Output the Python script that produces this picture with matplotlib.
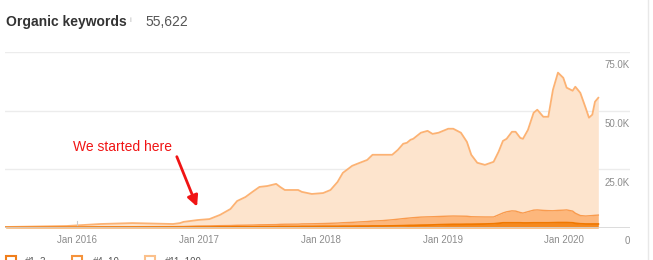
import matplotlib.pyplot as plt
import matplotlib.patches as mpatches
import numpy as np
from datetime import datetime

plt.rcParams['font.family'] = ['Liberation Sans', 'DejaVu Sans']

# data (organic keywords by ranking position)
dates = ["2015-06-01", "2015-12-01", "2016-03-10", "2016-06-15", "2016-10-15", "2016-11-05",
         "2016-11-15", "2016-12-28", "2017-02-01", "2017-03-05", "2017-04-05", "2017-04-25",
         "2017-05-20", "2017-06-10", "2017-07-01", "2017-07-25", "2017-08-20", "2017-09-01",
         "2017-09-15", "2017-10-25", "2017-11-05", "2017-12-05", "2018-01-08", "2018-01-30",
         "2018-02-20", "2018-03-08", "2018-04-05", "2018-04-28", "2018-05-20", "2018-06-05",
         "2018-07-05", "2018-08-03", "2018-08-20", "2018-09-05", "2018-09-16", "2018-09-27",
         "2018-10-05", "2018-10-28", "2018-11-17", "2018-12-02", "2018-12-20", "2019-01-18",
         "2019-02-02", "2019-02-25", "2019-03-15", "2019-03-28", "2019-04-15", "2019-05-08",
         "2019-06-03", "2019-06-18", "2019-07-01", "2019-07-12", "2019-07-28", "2019-08-08",
         "2019-08-22", "2019-08-30", "2019-09-14", "2019-10-01", "2019-10-12", "2019-10-30",
         "2019-11-14", "2019-11-28", "2019-12-13", "2019-12-29", "2020-01-08", "2020-01-26",
         "2020-02-03", "2020-02-18", "2020-03-05", "2020-03-15", "2020-03-25", "2020-04-02",
         "2020-04-12"]

kw_1_3 = [200, 250, 300, 300, 350, 350, 350, 400, 400, 450, 450, 500,
          500, 500, 550, 550, 550, 600, 600, 600, 650, 650, 700, 700,
          700, 750, 750, 800, 800, 850, 850, 900, 950, 1000, 1050, 1100,
          1100, 1200, 1250, 1300, 1400, 1500, 1550, 1550, 1600, 1600, 1650, 1700,
          1800, 2000, 2200, 2200, 2200, 2200, 2200, 2150, 2150, 2200, 2200, 2200,
          2200, 2250, 2300, 2300, 2300, 2200, 2000, 1800, 1700, 1700, 1700, 1700,
          1700]

kw_4_10 = [100, 150, 200, 250, 250, 300, 300, 450, 500, 550, 600, 650,
           700, 750, 800, 850, 900, 950, 1000, 1050, 1100, 1150, 1200, 1300,
           1400, 1500, 1650, 1800, 1950, 2100, 2300, 2600, 2800, 3000, 3100, 3200,
           3300, 3450, 3500, 3500, 3500, 3550, 3550, 3500, 3400, 3200, 3100, 3000,
           2900, 3600, 4200, 4700, 5100, 5000, 4400, 4200, 4800, 5400, 5500, 5300,
           5200, 5100, 5200, 5300, 5400, 5000, 4300, 3500, 3400, 3500, 3600, 3700,
           3800]

kw_11_100 = [130, 450, 1200, 1550, 1100, 1450, 1950, 2550, 2900, 4600, 7050, 10350,
             12000, 14150, 16150, 16500, 17350, 15950, 14600, 14550, 13650, 12700, 13000, 14200,
             17500, 21250, 24100, 25200, 26250, 28250, 28050, 27700, 29550, 31900, 32150, 33300,
             33600, 35950, 36650, 35300, 35700, 37250, 37200, 35550, 31700, 26400, 23050, 22200,
             23500, 26900, 30700, 31100, 33700, 33800, 31800, 31650, 34850, 41500, 42700, 39900,
             40000, 51550, 58700, 56400, 52100, 51300, 53900, 52300, 46100, 41800, 43000, 48400,
             50000]

year_ticks = [2016, 2017, 2018, 2019, 2020]
y_ticks = [0, 25000, 50000, 75000]
y_labels = ["0", "25.0K", "50.0K", "75.0K"]

x = [datetime.strptime(d, "%Y-%m-%d") for d in dates]
a = np.array(kw_1_3)
ab = a + np.array(kw_4_10)
abc = ab + np.array(kw_11_100)

fig = plt.figure(figsize=(6.53, 2.60), dpi=100)
ax = fig.add_axes([5 / 653, 32 / 260, 625 / 653, 176 / 260])

# gridlines
for v in y_ticks[1:]:
    ax.axhline(v, color='#ececec', lw=1, zorder=0)
ax.axhline(0, color='#d6d6d6', lw=1.2, zorder=5)

# stacked areas
ax.fill_between(x, ab, abc, color='#fde4cd', lw=0, zorder=1)
ax.fill_between(x, a, ab, color='#fdb77c', lw=0, zorder=2)
ax.fill_between(x, 0, a, color='#f5891f', lw=0, zorder=3)
ax.plot(x, abc, color='#fcb273', lw=1.3, zorder=4)
ax.plot(x, ab, color='#f99b4e', lw=1.0, zorder=4)
ax.plot(x, a, color='#f07800', lw=1.3, zorder=4)

# small marker near Jan 2016
ax.plot([datetime(2016, 1, 1)] * 2, [1400, 2800], color='#cccccc', lw=0.8, zorder=4)

ax.set_xlim(datetime(2015, 5, 30), datetime(2020, 7, 16))
ax.set_ylim(0, 75000)
for s in ax.spines.values():
    s.set_visible(False)
ax.set_yticks([])
ax.set_xticks([datetime(y, 1, 1) for y in year_ticks])
ax.set_xticklabels(["Jan %d" % y for y in year_ticks])
ax.tick_params(axis='x', length=0, pad=5, labelsize=7, labelcolor='#8c8c8c')

for v, lab in zip(y_ticks, y_labels):
    ax.annotate(lab, xy=(1, v), xycoords=('axes fraction', 'data'), xytext=(0, -6),
                textcoords='offset points', ha='right', va='top', fontsize=7, color='#8c8c8c',
                annotation_clip=False)

# annotation
ax.text(datetime(2015, 12, 20), 34600, "We started here", color='#f01414', fontsize=10,
        va='center', ha='left')
ax.annotate('', xy=(datetime(2016, 12, 29), 8000), xytext=(datetime(2016, 10, 23), 31500),
            arrowprops=dict(arrowstyle='-|>', color='#f01414', lw=2, mutation_scale=16))

# header
fig.text(6 / 653, 1 - 22 / 260, "Organic keywords", fontsize=10, fontweight='bold',
         color='#333333', va='center', ha='left')
fig.text(130 / 653, 1 - 20 / 260, "i", fontsize=6, color='#bbbbbb', va='center', ha='left')
fig.text(145 / 653, 1 - 22 / 260, "55,622", fontsize=10, color='#555555', va='center', ha='left')

# legend (cut off at the bottom, as in the reference)
legend_items = [("#1\u20133", '#f07e1b', 6, 25), ("#4\u201310", '#f5933c', 72, 93),
                ("#11\u2013100", '#fbc08b', 145, 165)]
for lab, col, bx, tx in legend_items:
    fig.patches.append(mpatches.Rectangle((bx / 653, (260 - 266) / 260), 10 / 653, 10 / 260,
                                          transform=fig.transFigure, facecolor='white',
                                          edgecolor=col, lw=1.5))
    fig.text(tx / 653, (260 - 257) / 260, lab, fontsize=7, color='#555555', va='top', ha='left')

# right border
fig.add_artist(plt.Line2D([648 / 653, 648 / 653], [0, 1], color='#e8e8e8', lw=1,
                          transform=fig.transFigure))

fig.savefig("out.png", dpi=100)
